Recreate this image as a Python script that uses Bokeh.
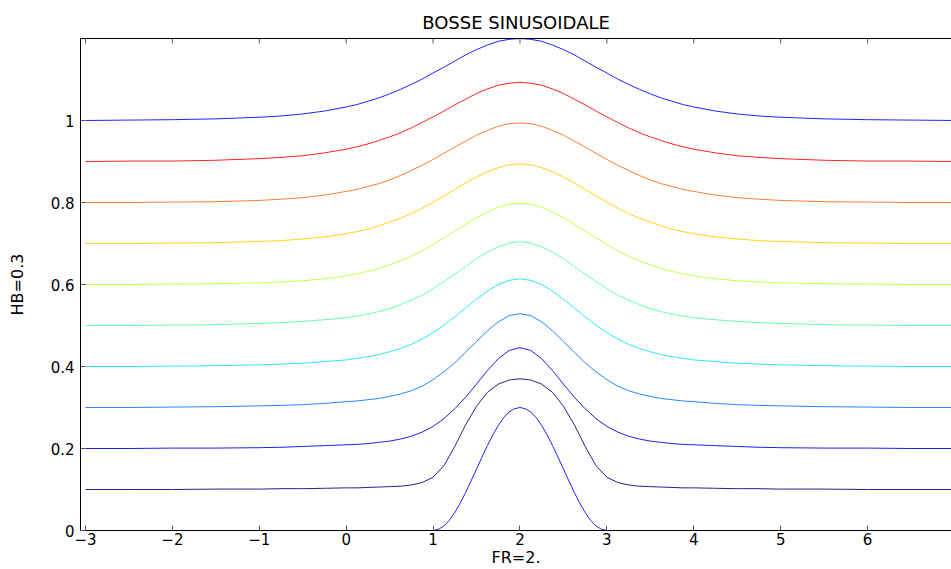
from bokeh.plotting import figure
from bokeh.models import Range1d, FixedTicker, LinearAxis
from bokeh.embed import file_html
from bokeh.resources import INLINE
import math

# Abscissa shared by all streamlines
x_grid = [-3, -2.5, -2, -1.5, -1, -0.75, -0.5, -0.25, 0, 0.125, 0.25, 0.375, 0.5,
          0.625, 0.75, 0.875, 1, 1.125, 1.25, 1.375, 1.5, 1.625, 1.75, 1.875, 2,
          2.125, 2.25, 2.375, 2.5, 2.625, 2.75, 2.875, 3, 3.125, 3.25, 3.375, 3.5,
          3.625, 3.75, 3.875, 4, 4.25, 4.5, 4.75, 5, 5.5, 6, 6.5, 7]

# Sinusoidal bump on the bed (height HB = 0.3)
x_wall = [1, 1.0625, 1.125, 1.1875, 1.25, 1.3125, 1.375, 1.4375, 1.5, 1.5625, 1.625,
          1.6875, 1.75, 1.8125, 1.875, 1.9375, 2, 2.0625, 2.125, 2.1875, 2.25, 2.3125,
          2.375, 2.4375, 2.5, 2.5625, 2.625, 2.6875, 2.75, 2.8125, 2.875, 2.9375, 3]
y_wall = [0, 0.003, 0.011, 0.025, 0.044, 0.067, 0.093, 0.121, 0.150, 0.179, 0.207,
          0.233, 0.256, 0.275, 0.289, 0.297, 0.300, 0.297, 0.289, 0.275, 0.256, 0.233,
          0.207, 0.179, 0.150, 0.121, 0.093, 0.067, 0.044, 0.025, 0.011, 0.003, 0]

# Streamlines, from the bed upwards to the free surface
psi_01 = [0.100, 0.100, 0.100, 0.101, 0.101, 0.102, 0.102, 0.103, 0.104, 0.104, 0.105,
          0.106, 0.107, 0.108, 0.111, 0.117, 0.130, 0.158, 0.205, 0.258, 0.303, 0.337,
          0.357, 0.367, 0.370,
          0.367, 0.357, 0.337, 0.303, 0.258, 0.205, 0.158, 0.130, 0.117, 0.111, 0.108,
          0.107, 0.106, 0.105, 0.104, 0.104, 0.103, 0.102, 0.102, 0.101, 0.101, 0.100,
          0.100, 0.100]
psi_02 = [0.200, 0.200, 0.201, 0.201, 0.202, 0.203, 0.205, 0.207, 0.209, 0.210, 0.212,
          0.215, 0.218, 0.223, 0.230, 0.240, 0.254, 0.273, 0.297, 0.325, 0.357, 0.390,
          0.419, 0.439, 0.446,
          0.439, 0.419, 0.390, 0.357, 0.325, 0.297, 0.273, 0.254, 0.240, 0.230, 0.223,
          0.218, 0.215, 0.212, 0.210, 0.209, 0.207, 0.205, 0.203, 0.202, 0.201, 0.201,
          0.200, 0.200]
psi_03 = [0.300, 0.300, 0.301, 0.302, 0.304, 0.305, 0.307, 0.310, 0.314, 0.316, 0.319,
          0.322, 0.327, 0.333, 0.341, 0.352, 0.368, 0.387, 0.409, 0.435, 0.461, 0.487,
          0.509, 0.524, 0.529,
          0.524, 0.509, 0.487, 0.461, 0.435, 0.409, 0.387, 0.368, 0.352, 0.341, 0.333,
          0.327, 0.322, 0.319, 0.316, 0.314, 0.310, 0.307, 0.305, 0.304, 0.302, 0.301,
          0.300, 0.300]
psi_04 = [0.400, 0.400, 0.401, 0.402, 0.404, 0.406, 0.408, 0.412, 0.416, 0.420, 0.424,
          0.429, 0.436, 0.444, 0.454, 0.467, 0.483, 0.501, 0.521, 0.543, 0.564, 0.584,
          0.600, 0.610, 0.614,
          0.610, 0.600, 0.584, 0.564, 0.543, 0.521, 0.501, 0.483, 0.467, 0.454, 0.444,
          0.436, 0.429, 0.424, 0.420, 0.416, 0.412, 0.408, 0.406, 0.404, 0.402, 0.401,
          0.400, 0.400]
psi_05 = [0.500, 0.500, 0.501, 0.502, 0.505, 0.507, 0.510, 0.514, 0.519, 0.523, 0.528,
          0.534, 0.541, 0.551, 0.562, 0.574, 0.590, 0.607, 0.625, 0.644, 0.663, 0.679,
          0.692, 0.701, 0.704,
          0.701, 0.692, 0.679, 0.663, 0.644, 0.625, 0.607, 0.590, 0.574, 0.562, 0.551,
          0.541, 0.534, 0.528, 0.523, 0.519, 0.514, 0.510, 0.507, 0.505, 0.502, 0.501,
          0.500, 0.500]
psi_06 = [0.600, 0.600, 0.601, 0.602, 0.604, 0.606, 0.609, 0.614, 0.621, 0.626, 0.632,
          0.639, 0.648, 0.658, 0.669, 0.683, 0.697, 0.714, 0.730, 0.747, 0.763, 0.777,
          0.788, 0.796, 0.798,
          0.796, 0.788, 0.777, 0.763, 0.747, 0.730, 0.714, 0.697, 0.683, 0.669, 0.658,
          0.648, 0.639, 0.632, 0.626, 0.621, 0.614, 0.609, 0.606, 0.604, 0.602, 0.601,
          0.600, 0.600]
psi_07 = [0.700, 0.700, 0.701, 0.702, 0.705, 0.707, 0.711, 0.716, 0.724, 0.729, 0.735,
          0.743, 0.752, 0.762, 0.773, 0.786, 0.801, 0.816, 0.832, 0.848, 0.862, 0.875,
          0.885, 0.892, 0.894,
          0.892, 0.885, 0.875, 0.862, 0.848, 0.832, 0.816, 0.801, 0.786, 0.773, 0.762,
          0.752, 0.743, 0.735, 0.729, 0.724, 0.716, 0.711, 0.707, 0.705, 0.702, 0.701,
          0.700, 0.700]
psi_08 = [0.800, 0.800, 0.801, 0.802, 0.805, 0.808, 0.812, 0.818, 0.827, 0.832, 0.839,
          0.846, 0.855, 0.866, 0.878, 0.891, 0.905, 0.920, 0.935, 0.950, 0.964, 0.976,
          0.986, 0.992, 0.994,
          0.992, 0.986, 0.976, 0.964, 0.950, 0.935, 0.920, 0.905, 0.891, 0.878, 0.866,
          0.855, 0.846, 0.839, 0.832, 0.827, 0.818, 0.812, 0.808, 0.805, 0.802, 0.801,
          0.800, 0.800]
psi_09 = [0.900, 0.901, 0.901, 0.903, 0.907, 0.910, 0.914, 0.921, 0.930, 0.936, 0.943,
          0.951, 0.960, 0.970, 0.982, 0.995, 1.009, 1.023, 1.038, 1.052, 1.066, 1.077,
          1.086, 1.091, 1.093,
          1.091, 1.086, 1.077, 1.066, 1.052, 1.038, 1.023, 1.009, 0.995, 0.982, 0.970,
          0.960, 0.951, 0.943, 0.936, 0.930, 0.921, 0.914, 0.910, 0.907, 0.903, 0.901,
          0.901, 0.900]
surface = [1.000, 1.001, 1.002, 1.004, 1.008, 1.011, 1.016, 1.023, 1.033, 1.039, 1.047,
           1.055, 1.065, 1.076, 1.088, 1.101, 1.116, 1.130, 1.145, 1.160, 1.173, 1.184,
           1.193, 1.198, 1.200,
           1.198, 1.193, 1.184, 1.173, 1.160, 1.145, 1.130, 1.116, 1.101, 1.088, 1.076,
           1.065, 1.055, 1.047, 1.039, 1.033, 1.023, 1.016, 1.011, 1.008, 1.004, 1.002,
           1.001, 1.000]

streamlines = [psi_01, psi_02, psi_03, psi_04, psi_05, psi_06, psi_07, psi_08, psi_09, surface]
line_colors = ["#24248c", "#2020ea", "#2c86ff", "#2ee4ff", "#66ffb4",
               "#c6ff4c", "#ffd41c", "#ff7e30", "#ff2424", "#2424ff"]
wall_color = "#2424ff"

x_ticks = [-3, -2, -1, 0, 1, 2, 3, 4, 5, 6, 7]
x_tick_labels = ["\u22123", "\u22122", "\u22121", "0", "1", "2", "3", "4", "5", "6", "7"]
y_ticks = [0, 0.2, 0.4, 0.6, 0.8, 1.0]
y_tick_labels = ["0", "0.2", "0.4", "0.6", "0.8", "1"]

FONT = "DejaVu Sans"
TICK_COLOR = "#555555"

p = figure(width=951, height=569, output_backend="svg", toolbar_location=None,
           x_range=Range1d(-3.0575, 6.966), y_range=Range1d(0, 1.2),
           min_border_left=80, min_border_right=0, min_border_top=38,
           min_border_bottom=39, outline_line_color=None,
           background_fill_color="white", border_fill_color="white")

p.title.text = "BOSSE SINUSOIDALE"
p.title.align = "center"
p.title.text_font = FONT
p.title.text_font_size = "18px"
p.title.text_font_style = "normal"
p.title.text_color = "black"
p.title.standoff = 12

p.xgrid.visible = False
p.ygrid.visible = False

for ax, ticks, labels in ((p.xaxis[0], x_ticks, x_tick_labels),
                          (p.yaxis[0], y_ticks, y_tick_labels)):
    ax.ticker = FixedTicker(ticks=ticks)
    ax.major_label_overrides = dict(zip(ticks, labels))
    ax.minor_tick_line_color = None
    ax.major_tick_in = 5
    ax.major_tick_out = 0
    ax.major_tick_line_color = TICK_COLOR
    ax.axis_line_color = "black"
    ax.major_label_text_font = FONT
    ax.major_label_text_font_size = "15px"
    ax.major_label_text_color = "black"
    ax.axis_label_text_font = FONT
    ax.axis_label_text_font_size = "16px"
    ax.axis_label_text_font_style = "normal"
    ax.axis_label_text_color = "black"

p.xaxis.axis_label = "FR=2."
p.xaxis.major_label_standoff = 2
p.xaxis.axis_label_standoff = 0
p.yaxis.axis_label = "HB=0.3"
p.yaxis.major_label_standoff = 6
p.yaxis.axis_label_standoff = 21

# Top edge of the box: a bare axis line, with inward tick marks drawn at the frame edge
top = LinearAxis(ticker=FixedTicker(ticks=[]), minor_tick_line_color=None,
                 major_tick_line_color=None, axis_line_color="black")
p.add_layout(top, "above")
p.scatter(x_ticks, [p.y_range.end] * len(x_ticks), marker="dash", angle=math.pi / 2,
          size=10, line_color=TICK_COLOR, line_width=1)

p.line(x_wall, y_wall, line_color=wall_color, line_width=1)
for ys, c in zip(streamlines, line_colors):
    p.line(x_grid, ys, line_color=c, line_width=1)

open("out.html", "w").write(file_html(p, INLINE))
